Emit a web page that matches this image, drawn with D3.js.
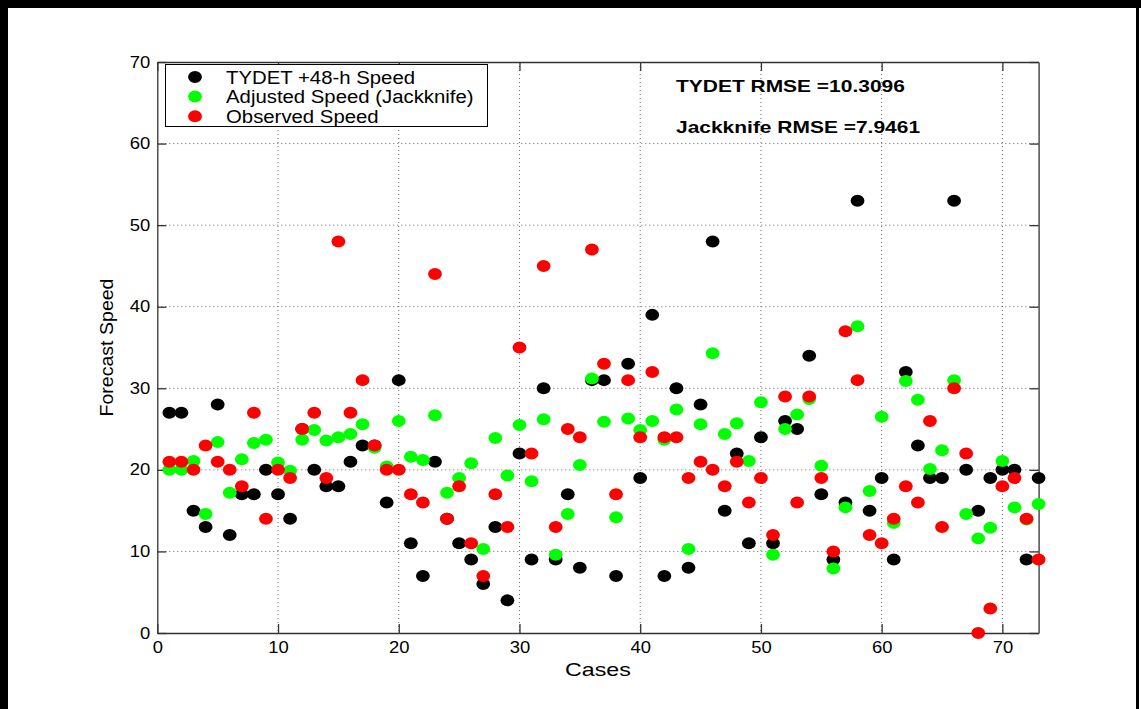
<!DOCTYPE html>
<html>
<head>
<meta charset="utf-8">
<script src="https://cdn.jsdelivr.net/npm/d3@7"></script>
<style>
  html, body { margin: 0; padding: 0; background: #fff; }
  svg { display: block; font-family: "Liberation Sans", Arial, Helvetica, sans-serif; }
</style>
</head>
<body>
<svg id="chart" width="1141" height="709"></svg>
<script>
// Case numbers along the x axis
const cases = [1,2,3,4,5,6,7,8,9,10,11,12,13,14,15,16,17,18,19,20,21,22,23,24,25,26,27,28,29,30,
  31,32,33,34,35,36,37,38,39,40,41,42,43,44,45,46,47,48,49,50,51,52,53,54,55,56,57,58,59,60,
  61,62,63,64,65,66,67,68,69,70,71,72,73];

// TYDET +48-h forecast speed
const tydetSpeed = [27,27,15,13,28,12,17,17,20,17,14,25,20,18,18,21,23,23,16,31,11,7,21,14,11,9,6,13,4,22,
  9,30,9,17,8,31,31,7,33,19,39,7,30,8,28,48,15,22,11,24,11,26,25,34,17,9,16,53,15,19,
  9,32,23,19,19,53,20,15,19,20,20,9,19];

// Jackknife-adjusted speed
const adjustedSpeed = [20,20,21.1,14.6,23.4,17.2,21.3,23.3,23.7,20.9,19.9,23.7,24.9,23.6,24.0,24.4,25.6,22.7,20.4,26.0,
  21.6,21.2,26.7,17.2,19.0,20.8,10.3,23.9,19.3,25.5,18.6,26.2,9.6,14.6,20.6,31.2,25.9,14.2,26.3,24.9,
  26.0,23.7,27.4,10.3,25.6,34.3,24.4,25.7,21.1,28.3,9.6,25.0,26.8,28.7,20.5,7.9,15.4,37.6,17.4,26.5,
  13.5,30.9,28.6,20.1,22.4,31.0,14.6,11.6,12.9,21.1,15.4,13.9,15.8];

// Observed speed
const observedSpeed = [21,21,20,23,21,20,18,27,14,20,19,25,27,19,48,27,31,23,20,20,17,16,44,14,18,11,7,17,13,35,
  22,45,13,25,24,47,33,17,31,24,32,24,24,19,21,20,18,21,16,19,12,29,16,29,19,10,37,31,12,11,
  14,18,16,26,13,30,22,0,3,18,19,14,9];

const seriesNames = ["TYDET +48-h Speed", "Adjusted Speed (Jackknife)", "Observed Speed"];
const seriesColors = ["#000000", "#00ff00", "#ff0000"];
const xTicks = [0,10,20,30,40,50,60,70];
const yTicks = [0,10,20,30,40,50,60,70];
const rmseLines = ["TYDET RMSE =10.3096", "Jackknife RMSE =7.9461"];

const svg = d3.select("#chart");
const W = 1141, H = 709;

// Text in this figure is set slightly wide; stretch each label horizontally
function widen(sel, factor) {
  sel.each(function () {
    const w = this.getComputedTextLength();
    d3.select(this).attr("textLength", w * factor).attr("lengthAdjust", "spacingAndGlyphs");
  });
}

// Outer frame
svg.append("rect").attr("x", 0).attr("y", 0).attr("width", W).attr("height", H).attr("fill", "#fff");
svg.append("rect").attr("x", 0).attr("y", 0).attr("width", W).attr("height", 8).attr("fill", "#000");
svg.append("rect").attr("x", 0).attr("y", 0).attr("width", 8).attr("height", H).attr("fill", "#000");
svg.append("rect").attr("x", 1136).attr("y", 0).attr("width", 3).attr("height", H).attr("fill", "#000");

const plot = { left: 157.3, right: 1038.6, top: 62, bottom: 633 };

const x = d3.scaleLinear().domain([0, 73]).range([plot.left, plot.right]);
const y = d3.scaleLinear().domain([0, 70]).range([plot.bottom, plot.top]);

const g = svg.append("g");

// Dotted grid
g.selectAll("line.gx").data(xTicks.filter(d => d > 0)).join("line")
  .attr("class", "gx")
  .attr("x1", d => x(d)).attr("x2", d => x(d))
  .attr("y1", plot.top).attr("y2", plot.bottom)
  .attr("stroke", "#666").attr("stroke-width", 1).attr("stroke-dasharray", "1,3");
g.selectAll("line.gy").data(yTicks.filter(d => d > 0 && d < 70)).join("line")
  .attr("class", "gy")
  .attr("x1", plot.left).attr("x2", plot.right)
  .attr("y1", d => y(d)).attr("y2", d => y(d))
  .attr("stroke", "#666").attr("stroke-width", 1).attr("stroke-dasharray", "1,3");

// Axes with inward ticks on all four sides
const axisStyle = sel => {
  sel.select(".domain").attr("stroke", "#333").attr("stroke-width", 1.3);
  sel.selectAll(".tick line").attr("stroke", "#333").attr("stroke-width", 1.3);
  sel.selectAll(".tick text").attr("font-size", 16).attr("fill", "#000")
    .attr("font-family", "\"Liberation Sans\", Arial, sans-serif");
};

svg.append("g").attr("transform", `translate(0,${plot.bottom})`)
  .call(d3.axisBottom(x).tickValues(xTicks).tickSize(-9).tickPadding(9).tickSizeOuter(0))
  .call(axisStyle)
  .call(a => widen(a.selectAll(".tick text"), 1.15));
svg.append("g").attr("transform", `translate(0,${plot.top})`)
  .call(d3.axisTop(x).tickValues(xTicks).tickSize(-9).tickFormat("").tickSizeOuter(0))
  .call(axisStyle);
svg.append("g").attr("transform", `translate(${plot.left},0)`)
  .call(d3.axisLeft(y).tickValues(yTicks).tickSize(-9).tickPadding(7).tickSizeOuter(0))
  .call(axisStyle)
  .call(a => widen(a.selectAll(".tick text"), 1.15));
svg.append("g").attr("transform", `translate(${plot.right},0)`)
  .call(d3.axisRight(y).tickValues(yTicks).tickSize(-9).tickFormat("").tickSizeOuter(0))
  .call(axisStyle);

// Scatter markers: black, then green, then red on top
const allSeries = [tydetSpeed, adjustedSpeed, observedSpeed];
allSeries.forEach((vals, i) => {
  svg.append("g").selectAll("ellipse").data(cases.map((c, k) => ({ c, v: vals[k] }))).join("ellipse")
    .attr("cx", d => x(d.c)).attr("cy", d => y(d.v))
    .attr("rx", 6.9).attr("ry", 6)
    .attr("fill", seriesColors[i]);
});

// Axis titles
const xTitle = svg.append("text").attr("x", (plot.left + plot.right) / 2).attr("y", 676)
  .attr("text-anchor", "middle").attr("font-size", 19).text("Cases");
widen(xTitle, 1.22);
svg.append("text").attr("transform", `translate(113,${(plot.top + plot.bottom) / 2}) rotate(-90)`)
  .attr("text-anchor", "middle").attr("font-size", 19).attr("textLength", 138)
  .attr("lengthAdjust", "spacingAndGlyphs").text("Forecast Speed");

// Legend
const leg = svg.append("g");
leg.append("rect").attr("x", 165.5).attr("y", 64.5).attr("width", 322).attr("height", 62)
  .attr("fill", "#fff").attr("stroke", "#000").attr("stroke-width", 1);
seriesNames.forEach((name, i) => {
  const cy = 77 + i * 19.6;
  leg.append("ellipse").attr("cx", 195).attr("cy", cy).attr("rx", 6.9).attr("ry", 6)
    .attr("fill", seriesColors[i]);
  const t = leg.append("text").attr("x", 226).attr("y", cy + 6.5).attr("font-size", 18).text(name);
  widen(t, 1.13);
});

// RMSE annotations
rmseLines.forEach((t, i) => {
  const txt = svg.append("text").attr("x", 676).attr("y", 92 + i * 41)
    .attr("font-size", 16.5).attr("font-weight", "bold").text(t);
  widen(txt, 1.27);
});
</script>
</body>
</html>
